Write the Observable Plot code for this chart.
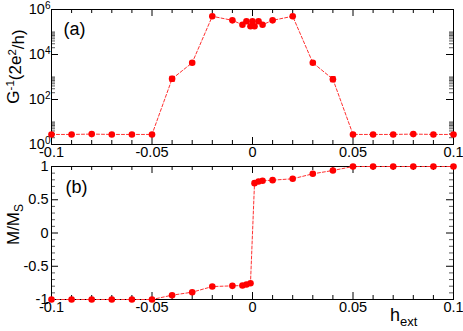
<!DOCTYPE html>
<html><head><meta charset="utf-8">
<script src="https://cdn.jsdelivr.net/npm/d3@7"></script>
<script src="https://cdn.jsdelivr.net/npm/@observablehq/plot@0.6"></script>
<style>
body{margin:0;background:#fff;}
#chart{position:relative;width:463px;height:331px;overflow:hidden;font-family:"Liberation Sans",Arial,sans-serif;}
#chart svg{display:block;overflow:visible;}
</style></head><body><div id="chart"></div>
<script>
// ---- data ----
const hA = [-0.1,-0.09,-0.08,-0.07,-0.06,-0.05,-0.04,-0.03,-0.02,-0.01,-0.005,-0.003,-0.001,0,0.001,0.003,0.005,0.01,0.02,0.03,0.04,0.05,0.06,0.07,0.08,0.09,0.1];
const Ginv = [2.8,2.8,2.9,2.8,2.8,2.8,830,4300,5.0e5,3.3e5,2.1e5,3.0e5,1.8e5,3.0e5,1.8e5,3.0e5,2.1e5,3.3e5,5.0e5,4300,800,2.8,2.8,2.8,2.9,2.8,2.8];
const errH = [-0.04,-0.03,0.03,0.04];
const errLo = [650,3800,3800,620];
const errHi = [1060,4900,4900,1030];

const hB = [-0.1,-0.09,-0.08,-0.07,-0.06,-0.05,-0.04,-0.03,-0.02,-0.01,-0.005,-0.003,-0.001,0.001,0.003,0.005,0.01,0.02,0.03,0.04,0.05,0.06,0.07,0.08,0.09,0.1];
const MMs = [-1,-1,-1,-1,-1,-1,-0.935,-0.89,-0.805,-0.795,-0.79,-0.775,-0.755,0.75,0.775,0.785,0.795,0.815,0.89,0.94,1,1,1,1,1,1];

const xTicks = [-0.1,-0.05,0,0.05,0.1];
const xTickLabels = ["-0.1","-0.05","0","0.05","0.1"];
const xMinor = [-0.09,-0.08,-0.07,-0.06,-0.04,-0.03,-0.02,-0.01,0.01,0.02,0.03,0.04,0.06,0.07,0.08,0.09];
const yTicksA = [1,1e2,1e4,1e6];
const yTickExpA = ["0","2","4","6"];
const yMinorA = [2,3,4,5,6,7,8,9,10,200,300,400,500,600,700,800,900,1000,2e4,3e4,4e4,5e4,6e4,7e4,8e4,9e4,1e5];
const yTicksB = [-1,-0.5,0,0.5,1];
const yTickLabelsB = ["-1","-0.5","0","0.5","1"];
const yMinorB = [-0.9,-0.8,-0.7,-0.6,-0.4,-0.3,-0.2,-0.1,0.1,0.2,0.3,0.4,0.6,0.7,0.8,0.9];

// ---- layout ----
const W = 463, mL = 51, mR = 10;
const plotW = W - mL - mR;
const red = "#ff0000";
const lineRed = "#ff3030";
const FONT = "Liberation Sans, Arial, sans-serif";

function frameTicks(plotH, yMajor, yMinor) {
  const M = 7, m = 4;
  return [
    Plot.tickX(xTicks, {x: d => d, insetTop: plotH - M, stroke: "#000"}),
    Plot.tickX(xTicks, {x: d => d, insetBottom: plotH - M, stroke: "#000"}),
    Plot.tickX(xMinor, {x: d => d, insetTop: plotH - m, stroke: "#000"}),
    Plot.tickX(xMinor, {x: d => d, insetBottom: plotH - m, stroke: "#000"}),
    Plot.tickY(yMajor, {y: d => d, insetRight: plotW - M, stroke: "#000"}),
    Plot.tickY(yMajor, {y: d => d, insetLeft: plotW - M, stroke: "#000"}),
    Plot.tickY(yMinor, {y: d => d, insetRight: plotW - m, stroke: "#333", strokeWidth: 0.8}),
    Plot.tickY(yMinor, {y: d => d, insetLeft: plotW - m, stroke: "#333", strokeWidth: 0.8})
  ];
}

const chart = document.getElementById("chart");

// ---- panel (a) ----
const dataA = hA.map((h, i) => ({h, g: Ginv[i]}));
const dataErr = errH.map((h, i) => ({h, lo: errLo[i], hi: errHi[i]}));
const hA_top = 9, hA_bottom = 16, HA = 160;
const plotHA = HA - hA_top - hA_bottom;
const plotA = Plot.plot({
  width: W, height: HA,
  marginLeft: mL, marginRight: mR, marginTop: hA_top, marginBottom: hA_bottom,
  style: {fontFamily: FONT, fontSize: "14.5px", color: "#000", background: "transparent"},
  x: {domain: [-0.1, 0.1]},
  y: {type: "log", domain: [1, 1e6]},
  marks: [
    Plot.axisX({ticks: xTicks, tickFormat: d => xTickLabels[xTicks.indexOf(d)], tickSize: 0, tickPadding: 2, fontSize: 14.5, label: null}),
    Plot.axisY({ticks: yTicksA, tickFormat: () => "10", tickSize: 0, tickPadding: 1, fontSize: 14.5, label: null}),
    ...frameTicks(plotHA, yTicksA, yMinorA),
    Plot.frame({stroke: "#000"}),
    Plot.line(dataA, {x: "h", y: "g", stroke: lineRed, strokeWidth: 1, strokeDasharray: "3,2"}),
    Plot.ruleX(dataErr, {x: "h", y1: "lo", y2: "hi", stroke: red, strokeWidth: 1.2}),
    Plot.link(dataErr, {x1: d => d.h - 0.0013, x2: d => d.h + 0.0013, y1: "lo", y2: "lo", stroke: red, strokeWidth: 1.2}),
    Plot.link(dataErr, {x1: d => d.h - 0.0013, x2: d => d.h + 0.0013, y1: "hi", y2: "hi", stroke: red, strokeWidth: 1.2}),
    Plot.dot(dataA, {x: "h", y: "g", r: 3.3, fill: red, stroke: "none"}),
    Plot.text(["(a)"], {frameAnchor: "top-left", textAnchor: "start", lineAnchor: "bottom", dx: 12, dy: 25, fontSize: 18})
  ]
});
chart.appendChild(plotA);

// superscripts on log tick labels
d3.select(plotA).selectAll('g[aria-label="y-axis tick label"] text').each(function(d, i) {
  d3.select(this).append("tspan").attr("dy", "-0.5em").attr("font-size", "10px").text(yTickExpA[i]);
});

// y-axis title (a)
{
  const ys = plotA.scale("y");
  const cy = (ys.apply(1) + ys.apply(1e6)) / 2 - 10;
  const t = d3.select(plotA).append("text")
    .attr("transform", `translate(19,${cy}) rotate(-90)`)
    .attr("text-anchor", "middle").attr("font-size", 17).attr("font-family", FONT).attr("fill", "#000");
  t.append("tspan").text("G");
  t.append("tspan").attr("dy", "-0.45em").attr("font-size", 11.5).text("-1");
  t.append("tspan").attr("dy", "0.45em").text("(2e");
  t.append("tspan").attr("dy", "-0.45em").attr("font-size", 11.5).text("2");
  t.append("tspan").attr("dy", "0.45em").text("/h)");
}

// ---- panel (b) ----
const dataB = hB.map((h, i) => ({h, m: MMs[i]}));
const hB_top = 6, hB_bottom = 32, HB = 171;
const plotHB = HB - hB_top - hB_bottom;
const plotB = Plot.plot({
  width: W, height: HB,
  marginLeft: mL, marginRight: mR, marginTop: hB_top, marginBottom: hB_bottom,
  style: {fontFamily: FONT, fontSize: "14.5px", color: "#000", background: "transparent"},
  x: {domain: [-0.1, 0.1]},
  y: {domain: [-1, 1]},
  marks: [
    Plot.axisX({ticks: xTicks, tickFormat: d => xTickLabels[xTicks.indexOf(d)], tickSize: 0, tickPadding: 2, fontSize: 14.5, label: null}),
    Plot.axisY({ticks: yTicksB, tickFormat: d => yTickLabelsB[yTicksB.indexOf(d)], tickSize: 0, tickPadding: 3, fontSize: 14.5, label: null}),
    ...frameTicks(plotHB, yTicksB, yMinorB),
    Plot.frame({stroke: "#000"}),
    Plot.line(dataB, {x: "h", y: "m", stroke: lineRed, strokeWidth: 1, strokeDasharray: "3,2"}),
    Plot.dot(dataB, {x: "h", y: "m", r: 3.3, fill: red, stroke: "none"}),
    Plot.text(["(b)"], {frameAnchor: "top-left", textAnchor: "start", lineAnchor: "bottom", dx: 14, dy: 26, fontSize: 18})
  ]
});
chart.appendChild(plotB);

{
  const ys = plotB.scale("y");
  const cy = (ys.apply(-1) + ys.apply(1)) / 2 - 8;
  const t = d3.select(plotB).append("text")
    .attr("transform", `translate(19,${cy}) rotate(-90)`)
    .attr("text-anchor", "middle").attr("font-size", 17).attr("font-family", FONT).attr("fill", "#000");
  t.append("tspan").text("M/M");
  t.append("tspan").attr("dy", "0.3em").attr("font-size", 12).text("S");
  // h_ext
  const xs = plotB.scale("x");
  const h = d3.select(plotB).append("text")
    .attr("x", xs.apply(0.0755)).attr("y", HB - 10)
    .attr("font-size", 18).attr("font-family", FONT).attr("fill", "#000");
  h.append("tspan").text("h");
  h.append("tspan").attr("dy", "0.35em").attr("font-size", 13).text("ext");
}
</script></body></html>
